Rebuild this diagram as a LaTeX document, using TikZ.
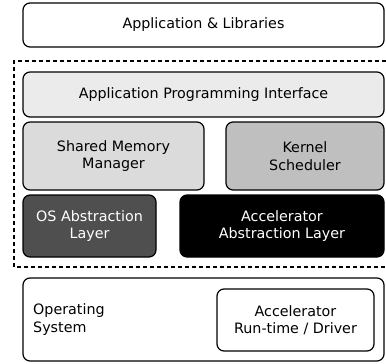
\documentclass[tikz,border=0pt]{standalone}
\usepackage{fontspec}
\setmainfont{DejaVu Sans}
\begin{document}
\begin{tikzpicture}[x=1pt,y=-1pt,
  blk/.style={draw=black, line width=1.2pt, rounded corners=7pt, align=center, inner sep=0pt,
    font=\fontsize{14.3}{17.5}\selectfont},
  dashbox/.style={draw=black, line width=1.4pt, dash pattern=on 4pt off 3pt}]
\useasboundingbox (0,0) rectangle (386,364);
\fill[white] (0,0) rectangle (386,364);
% Application & Libraries
\node[blk, fill=white, minimum width=361pt, minimum height=44pt] (app) at (203.5,25) {Application \& Libraries};
% dashed frame
\draw[dashbox] (386,61) -- (14,61) -- (14,267) -- (386,267);
\node[blk, fill=black!8, minimum width=361pt, minimum height=45pt] (api) at (203.5,94.5) {Application Programming Interface};
\node[blk, fill=black!14, minimum width=181pt, minimum height=68pt] (smm) at (113.5,156) {Shared Memory\\Manager};
\node[blk, fill=black!25, minimum width=158pt, minimum height=68pt] (ks) at (305,156) {Kernel\\Scheduler};
\node[blk, fill=black!69, text=white, minimum width=133pt, minimum height=62pt] (osal) at (89.5,226) {OS Abstraction\\Layer};
\node[blk, fill=black, text=white, minimum width=204pt, minimum height=62pt] (aal) at (282,226) {Accelerator\\Abstraction Layer};
% Operating system
\node[blk, fill=white, minimum width=361pt, minimum height=83pt] (os) at (203.5,319.5) {};
\node[font=\fontsize{14.3}{17.5}\selectfont, align=left, anchor=west, inner sep=0pt] (ostext) at (33,319.5) {Operating\\System};
\node[blk, fill=white, minimum width=157pt, minimum height=62pt] (drv) at (295.5,320) {Accelerator\\Run-time / Driver};
\end{tikzpicture}
\end{document}
